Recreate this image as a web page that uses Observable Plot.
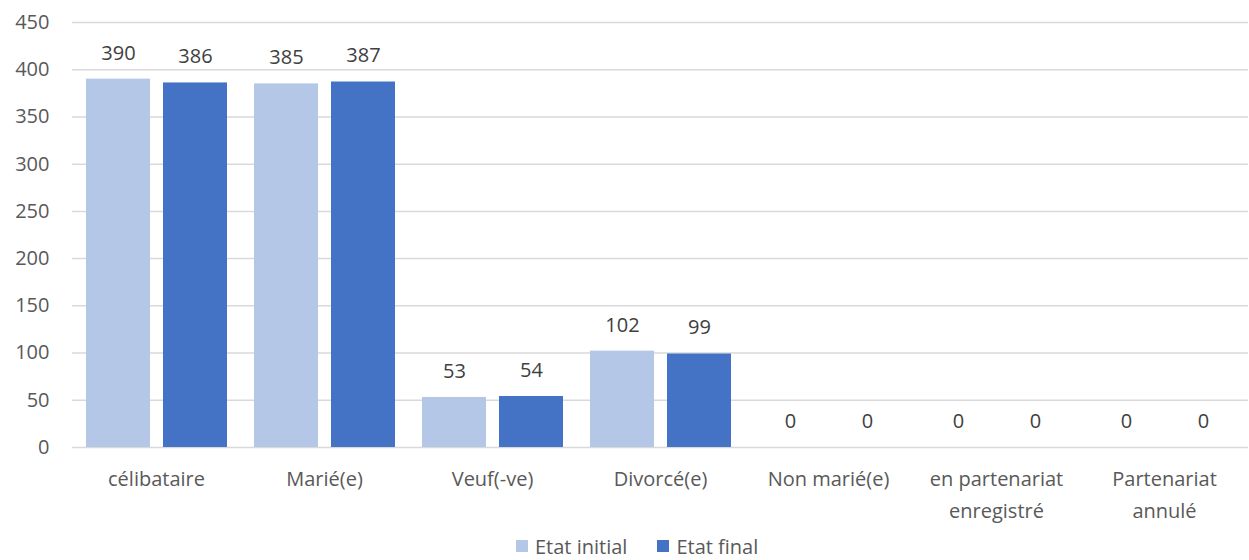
<!DOCTYPE html>
<html>
<head>
<meta charset="utf-8">
<script src="https://cdn.jsdelivr.net/npm/d3@7"></script>
<script src="https://cdn.jsdelivr.net/npm/@observablehq/plot@0.6"></script>
<style>
  html, body { margin: 0; padding: 0; background: white; }
  #legend { display: flex; align-items: center; height: 28px; margin-top: 3px; padding-left: 516px; font-family: "Open Sans", sans-serif; font-size: 20px; color: #595959; }
  #legend .item { display: flex; align-items: center; margin-right: 30px; }
  #legend .sw { width: 12px; height: 12px; margin-right: 7px; }
</style>
</head>
<body>
<div id="chart"></div>
<div id="legend"></div>
<script>
const categories = ["célibataire", "Marié(e)", "Veuf(-ve)", "Divorcé(e)", "Non marié(e)", "en partenariat enregistré", "Partenariat annulé"];
const categoryLabels = ["célibataire", "Marié(e)", "Veuf(-ve)", "Divorcé(e)", "Non marié(e)", "en partenariat\nenregistré", "Partenariat\nannulé"];
const initialValues = [390, 385, 53, 102, 0, 0, 0];
const finalValues = [386, 387, 54, 99, 0, 0, 0];
const seriesNames = ["Etat initial", "Etat final"];
const seriesColors = ["#B4C7E7", "#4472C4"];
const yTicks = [0, 50, 100, 150, 200, 250, 300, 350, 400, 450];

const data = [];
categories.forEach((c, i) => {
  data.push({cat: c, series: seriesNames[0], value: initialValues[i]});
  data.push({cat: c, series: seriesNames[1], value: finalValues[i]});
});
const labelOf = new Map(categories.map((c, i) => [c, categoryLabels[i]]));

const chart = Plot.plot({
  width: 1249,
  height: 529,
  marginLeft: 70,
  marginRight: 0,
  marginTop: 22,
  marginBottom: 82,
  style: {fontFamily: "Open Sans, sans-serif", fontSize: "20px", color: "#595959", background: "white"},
  fx: {domain: categories, padding: 0, label: null},
  x: {domain: seriesNames, padding: 0.17, axis: null},
  y: {domain: [0, 450], label: null},
  color: {domain: seriesNames, range: seriesColors},
  marks: [
    Plot.gridY(yTicks, {stroke: "#D9D9D9", strokeOpacity: 1, strokeWidth: 1.5}),
    Plot.axisY(yTicks, {tickSize: 0, tickPadding: 23, label: null, fill: "#595959", fontSize: 20}),
    Plot.axisFx({anchor: "bottom", tickSize: 0, tickPadding: 16, label: null, fill: "#595959", fontSize: 20, lineHeight: 1.6, tickFormat: d => labelOf.get(d)}),
    Plot.barY(data, {fx: "cat", x: "series", y: "value", fill: "series", inset: 0}),
    Plot.text(data, {fx: "cat", x: "series", y: "value", text: d => String(d.value), dy: -26, fill: "#404040", fontSize: 20})
  ]
});
document.getElementById("chart").appendChild(chart);

const legend = document.getElementById("legend");
seriesNames.forEach((s, i) => {
  const item = document.createElement("div");
  item.className = "item";
  const sw = document.createElement("div");
  sw.className = "sw";
  sw.style.background = seriesColors[i];
  const t = document.createElement("span");
  t.textContent = s;
  item.appendChild(sw);
  item.appendChild(t);
  legend.appendChild(item);
});
</script>
</body>
</html>
